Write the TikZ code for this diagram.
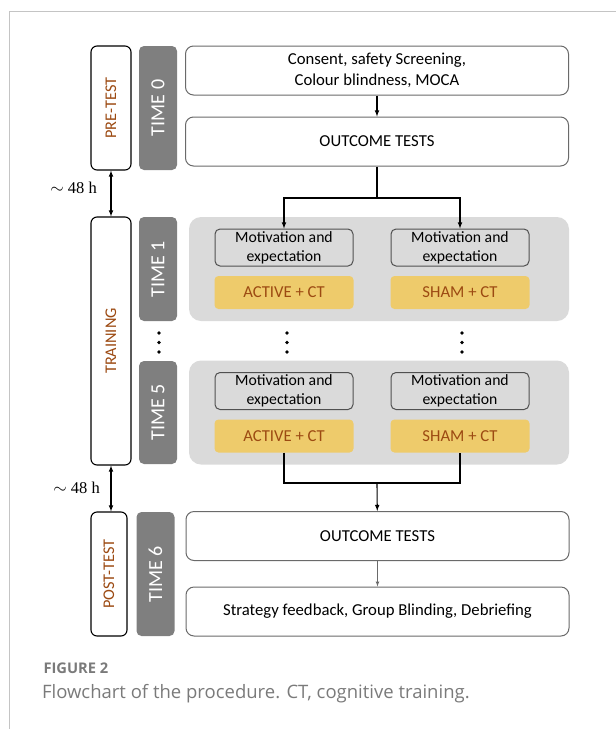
\documentclass[tikz,border=0pt]{standalone}
\usepackage{fontspec}
\setmainfont{Carlito}
\newfontfamily\capfont{Open Sans}
\newfontfamily\serfont{Liberation Serif}
\usetikzlibrary{arrows}
\definecolor{brn}{HTML}{9C4A12}
\definecolor{tgray}{HTML}{7F7F7F}
\definecolor{pgray}{HTML}{DADADA}
\definecolor{bgray}{HTML}{6A6A6A}
\definecolor{mgray}{HTML}{505050}
\definecolor{yel}{HTML}{EECB6B}
\definecolor{capgray}{HTML}{7A7A7A}
\definecolor{framegray}{HTML}{C4C4C4}

\begin{document}
\begin{tikzpicture}[x=1pt,y=-1pt,
  phase/.style={draw,line width=1.1pt,rounded corners=6pt,fill=white,text=brn,rotate=90,
    minimum height=40pt,inner sep=0pt,font=\fontsize{16.3}{16.3}\selectfont},
  timebox/.style={fill=tgray,rounded corners=5pt,text=white,rotate=90,
    minimum height=38pt,inner sep=0pt,font=\fontsize{20}{20}\selectfont},
  panel/.style={fill=pgray,rounded corners=12pt,minimum width=380pt,minimum height=104pt},
  outbox/.style={draw=bgray,line width=1pt,rounded corners=8pt,fill=white,minimum width=383pt,
    minimum height=49pt,inner sep=0pt,align=center,font=\fontsize{16.7}{21.5}\selectfont},
  motbox/.style={draw=mgray,line width=1pt,rounded corners=5pt,minimum width=138pt,
    minimum height=37pt,inner sep=0pt,align=center,font=\fontsize{15.7}{19}\selectfont},
  armbox/.style={fill=yel,text=brn,rounded corners=4pt,minimum width=139pt,minimum height=33pt,
    font=\fontsize{16.7}{16.7}\selectfont},
  arr/.style={-latex,line width=1.1pt},
  garr/.style={-latex,line width=0.7pt,draw=bgray},
  gap/.style={latex-latex,line width=1.1pt},
  hours/.style={anchor=east,inner sep=0pt,font=\serfont\fontsize{16.5}{16.5}\selectfont}]
\useasboundingbox (0,0) rectangle (616,729);
\draw[framegray,line width=0.8pt] (616,11) -- (9.5,11) -- (9.5,729);

\node[phase,minimum width=124pt] (pre) at (111,108) {PRE-TEST};
\node[phase,minimum width=248pt] (train) at (111,341) {TRAINING};
\node[phase,minimum width=124pt,minimum height=36pt] (post) at (109,574) {POST-TEST};
\foreach \y/\h/\l in {108/124/0, 269/104/1, 412.5/103/5}
  \node[timebox,minimum width=\h pt] (t\l) at (158,\y) {TIME \l};
\node[timebox,minimum width=124pt] (t6) at (155.5,574) {TIME 6};

\foreach \n/\y in {1/269, 5/412.5}
  {
  \node[panel] (p\n) at (379,\y) {};
  \node[motbox] (ma\n) at (284,\y-21.5) {Motivation and\\expectation};
  \node[motbox] (mb\n) at (460,\y-21.5) {Motivation and\\expectation};
  \node[armbox] (aa\n) at (284,\y+23.5) {ACTIVE + CT};
  \node[armbox] (ab\n) at (460,\y+23.5) {SHAM + CT};
  }
\foreach \x in {159,287,462}
  \foreach \y in {333,342.5,352}
    \fill (\x,\y) circle (1.8pt);

\node[outbox] (cons) at (377,70.5) {Consent, safety Screening,\\Colour blindness, MOCA};
\node[outbox] (out1) at (377,141.5) {OUTCOME TESTS};
\node[outbox] (out2) at (377.5,536) {OUTCOME TESTS};
\node[outbox] (strat) at (377.5,611.5) {Strategy feedback, Group Blinding, Debriefing};

\coordinate (split) at (377,198);
\coordinate (join) at (377,483);
\draw[arr] (cons) -- (out1);
\draw[line width=1.1pt] (out1) -- (split);
\draw[arr] (split) -| (ma1);
\draw[arr] (split) -| (mb1);
\draw[line width=1.1pt] (aa5) |- (join) -| (ab5);
\draw[arr] (join) -- (out2);
\draw[garr] (out2) -- (strat);

\draw[gap] (pre.west) -- (train.east);
\draw[gap] (train.west) -- (train.west |- post.east);
\node[hours] (h1) at (97,188) {$\sim$ 48 h};
\node[hours] (h2) at (100,488) {$\sim$ 48 h};

\node[anchor=west,text=capgray,font=\capfont\bfseries\fontsize{14.7}{14.7}\selectfont] (fig) at (40,668) {FIGURE 2};
\node[anchor=west,text=capgray,font=\capfont\fontsize{18.5}{18.5}\selectfont] (cap) at (38.5,694)
  {Flowchart of the procedure. CT, cognitive training.};
\end{tikzpicture}
\end{document}
